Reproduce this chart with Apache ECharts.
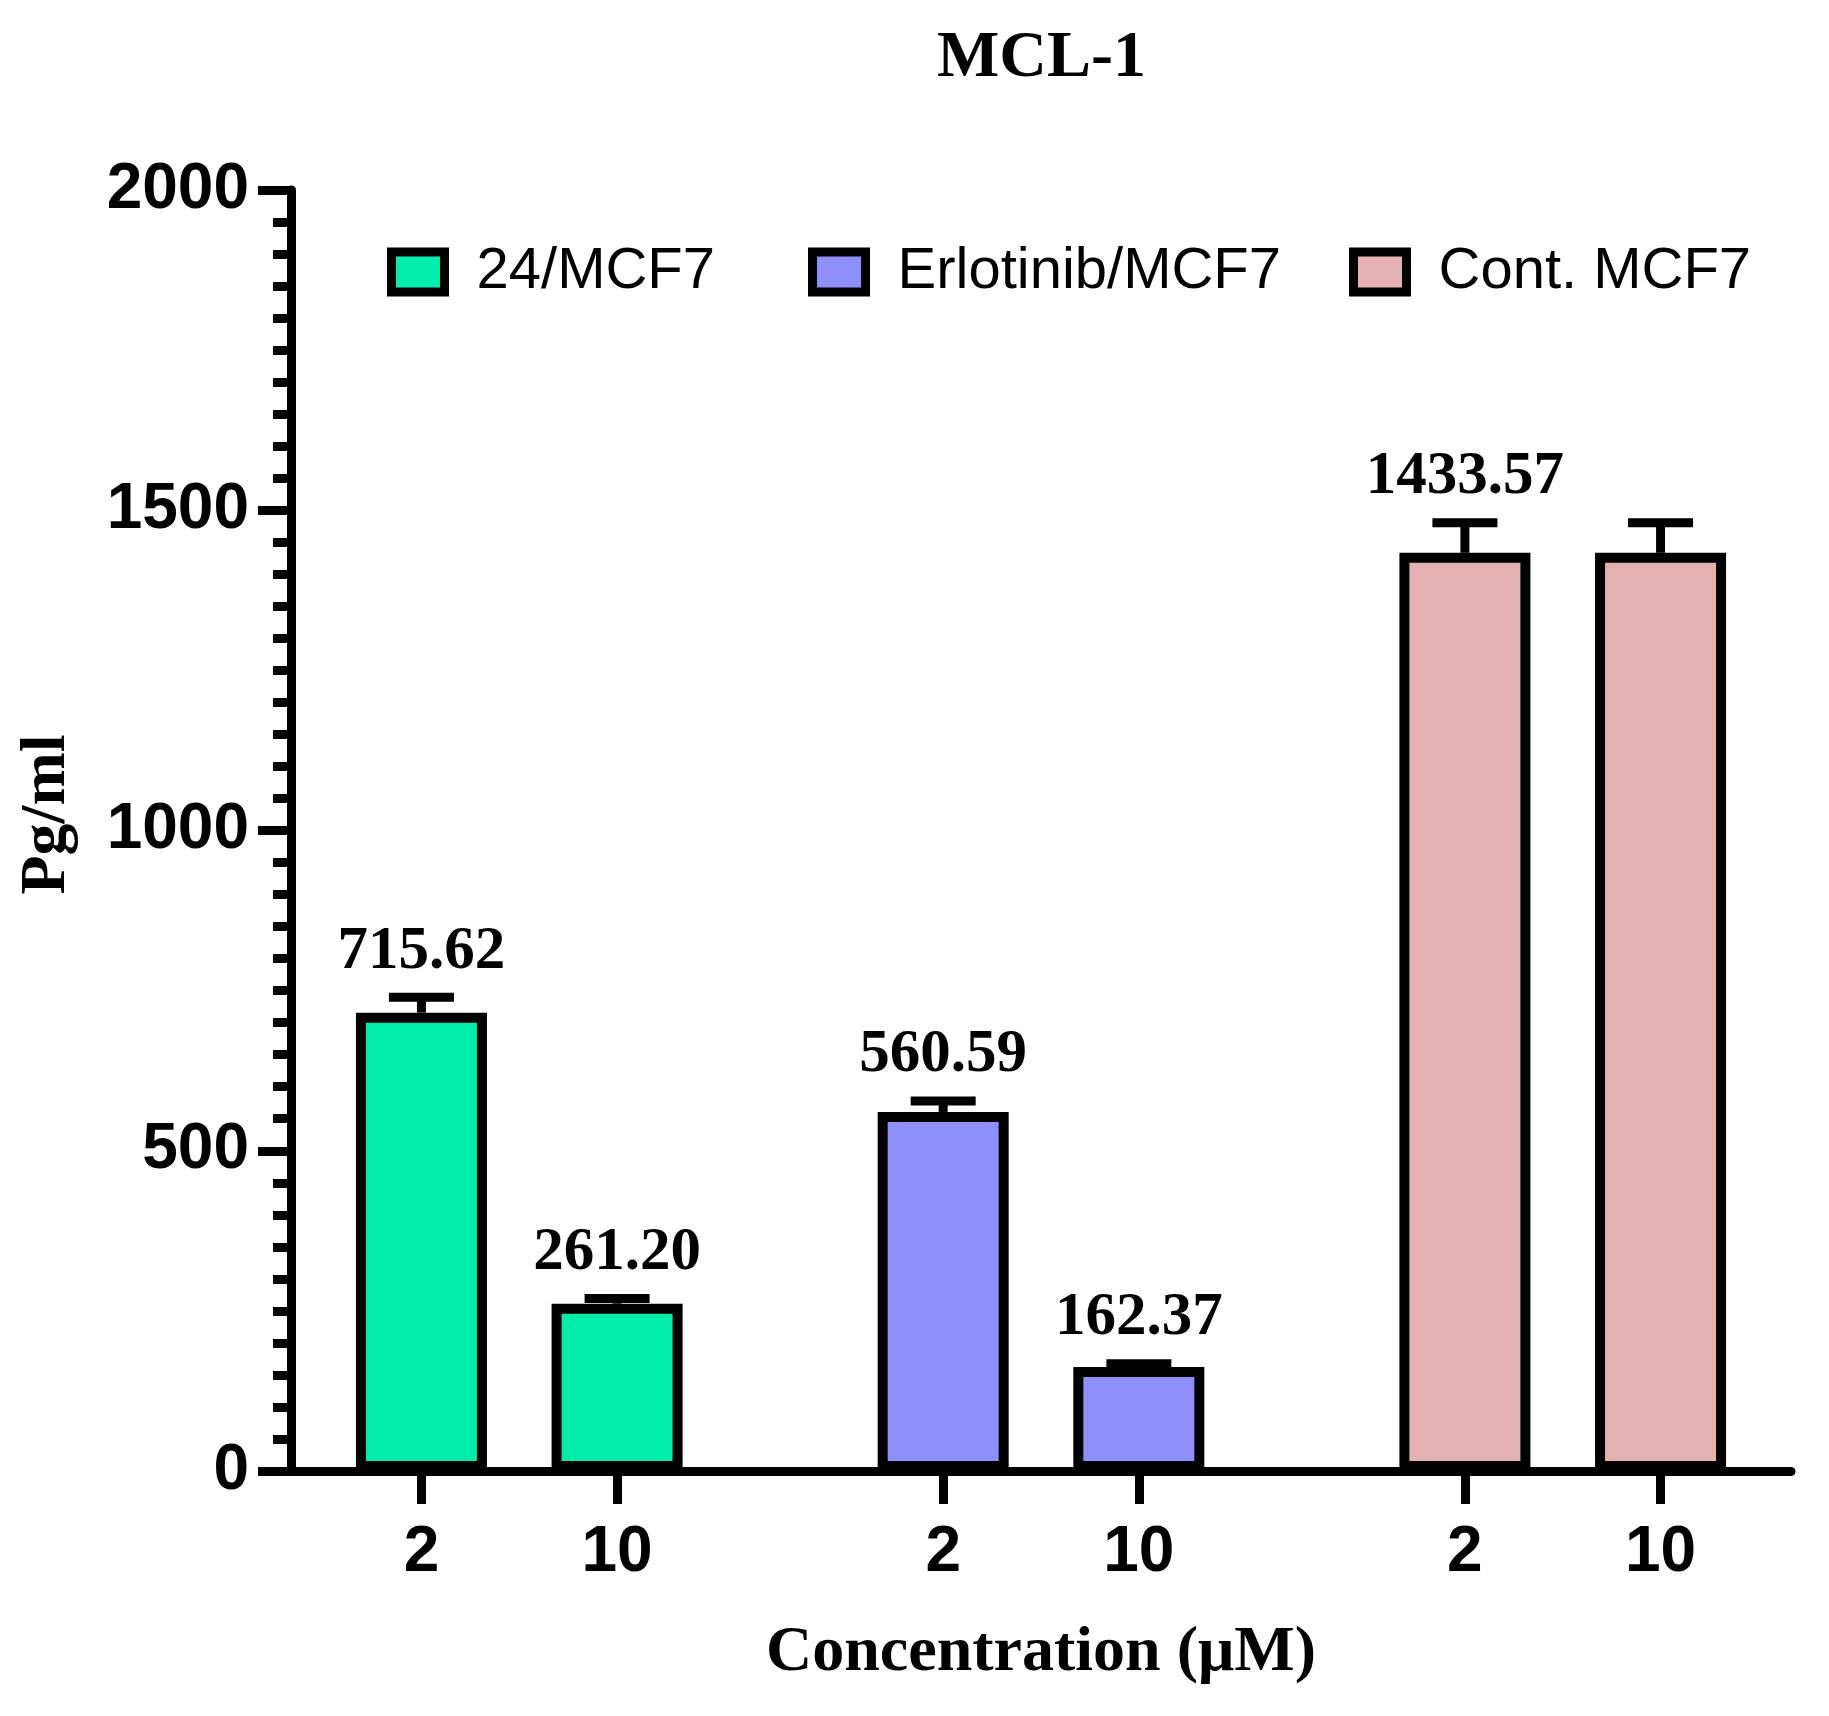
<!DOCTYPE html>
<html>
<head>
<meta charset="utf-8">
<script src="https://cdn.jsdelivr.net/npm/echarts@6/dist/echarts.min.js"></script>
<style>
html, body { margin: 0; padding: 0; background: #fff; }
#main { width: 1829px; height: 1716px; }
</style>
</head>
<body>
<div id="main"></div>
<script>
// data
var groups = ['24/MCF7', 'Erlotinib/MCF7', 'Cont. MCF7'];
var concentrations = ['2', '10'];
var values24 = [715.62, 261.20];
var valuesErlotinib = [560.59, 162.37];
var valuesCont = [1433.57, 1433.57];
var errors24 = [24, 8];
var errorsErlotinib = [17, 5];
var errorsCont = [47, 47];
var labels24 = [true, true];
var labelsErlotinib = [true, true];
var labelsCont = [true, false];
var yMin = 0, yMax = 2000, yStep = 500;

var colors = ['#00EEAA', '#8F8FFC', '#E3B1B1'];
var allValues = [values24, valuesErlotinib, valuesCont];
var allErrors = [errors24, errorsErlotinib, errorsCont];
var allLabels = [labels24, labelsErlotinib, labelsCont];

/* slots on the x axis: 2 bars 3 slots apart, groups 8 slots apart */
var slotCount = 24;
function slotOf(g, k) { return 2 + g * 8 + k * 3; }

var xData = [];
for (var i = 0; i < slotCount; i++) xData.push('');
groups.forEach(function (g, gi) {
	concentrations.forEach(function (c, ci) { xData[slotOf(gi, ci)] = c; });
});

var serif = 'Liberation Serif';
var sans = 'Liberation Sans';

var series = [];
var errData = [];
groups.forEach(function (name, gi) {
	var d = [];
	for (var i = 0; i < slotCount; i++) d.push('-');
	concentrations.forEach(function (c, ci) {
		d[slotOf(gi, ci)] = allValues[gi][ci];
		errData.push([slotOf(gi, ci), allValues[gi][ci], allErrors[gi][ci], allLabels[gi][ci] ? 1 : 0]);
	});
	series.push({
		name: name,
		type: 'bar',
		data: d,
		barWidth: 131,
		barGap: '-100%',
		itemStyle: { color: colors[gi], borderColor: '#000', borderWidth: 10 }
	});
});

/*误差线和数值*/
series.push({
	type: 'custom',
	data: errData,
	encode: { x: 0, y: 1 },
	z: 10,
	renderItem: function (params, api) {
		var x = api.value(0), v = api.value(1), e = api.value(2);
		var top = api.coord([x, v]);
		var cap = api.coord([x, v + e]);
		var kids = [
			{ type: 'line', shape: { x1: top[0], y1: top[1], x2: cap[0], y2: cap[1] }, style: { stroke: '#000', lineWidth: 9 } },
			{ type: 'line', shape: { x1: cap[0] - 32.5, y1: cap[1], x2: cap[0] + 32.5, y2: cap[1] }, style: { stroke: '#000', lineWidth: 9 } }
		];
		if (api.value(3)) {
			kids.push({
				type: 'text',
				style: {
					text: v.toFixed(2), x: cap[0], y: cap[1] - 15,
					fill: '#000', fontFamily: serif, fontWeight: 'bold', fontSize: 61,
					align: 'center', verticalAlign: 'bottom'
				}
			});
		}
		return { type: 'group', children: kids };
	}
});

var legendLefts = [387, 808, 1349];
var legends = groups.map(function (name, gi) {
	return {
		data: [name],
		left: legendLefts[gi],
		top: 243,
		padding: 0,
		icon: 'rect',
		itemWidth: 53,
		itemHeight: 40,
		itemStyle: { borderColor: '#000', borderWidth: 9 },
		textStyle: { fontFamily: sans, fontSize: 58, color: '#000', padding: [0, 0, 0, 27] }
	};
});

var chart = echarts.init(document.getElementById('main'));
chart.setOption({
	animation: false,
	backgroundColor: '#fff',
	title: {
		text: 'MCL-1',
		left: 937,
		top: 26,
		padding: 0,
		textStyle: { fontFamily: serif, fontWeight: 'bold', fontSize: 66, color: '#000' }
	},
	legend: legends,
	grid: { left: 291, top: 190, width: 1500, height: 1281 },
	xAxis: {
		type: 'category',
		data: xData,
		boundaryGap: false,
		name: 'Concentration (μM)',
		nameLocation: 'middle',
		nameGap: 150,
		nameTextStyle: { fontFamily: serif, fontWeight: 'bold', fontSize: 64, color: '#000' },
		axisLine: { lineStyle: { color: '#000', width: 9 } },
		axisTick: {
			interval: function (i, v) { return v !== ''; },
			length: 33,
			lineStyle: { color: '#000', width: 9 }
		},
		axisLabel: {
			interval: function (i, v) { return v !== ''; },
			margin: 50,
			fontFamily: sans, fontWeight: 'bold', fontSize: 64, color: '#000'
		},
		splitLine: { show: false }
	},
	yAxis: {
		type: 'value',
		min: yMin,
		max: yMax,
		interval: yStep,
		name: 'Pg/ml',
		nameLocation: 'middle',
		nameRotate: 90,
		nameGap: 212,
		nameTextStyle: { fontFamily: serif, fontWeight: 'bold', fontSize: 64, color: '#000', padding: [0, 0, 0, 32] },
		axisLine: { show: true, lineStyle: { color: '#000', width: 9 } },
		axisTick: { show: true, length: 33, lineStyle: { color: '#000', width: 9 } },
		minorTick: { show: true, splitNumber: 10, length: 18, lineStyle: { color: '#000', width: 9 } },
		axisLabel: {
			margin: 42,
			formatter: function (v) { return String(v); },
			fontFamily: sans, fontWeight: 'bold', fontSize: 64, color: '#000'
		},
		splitLine: { show: false }
	},
	series: series
});
</script>
</body>
</html>
